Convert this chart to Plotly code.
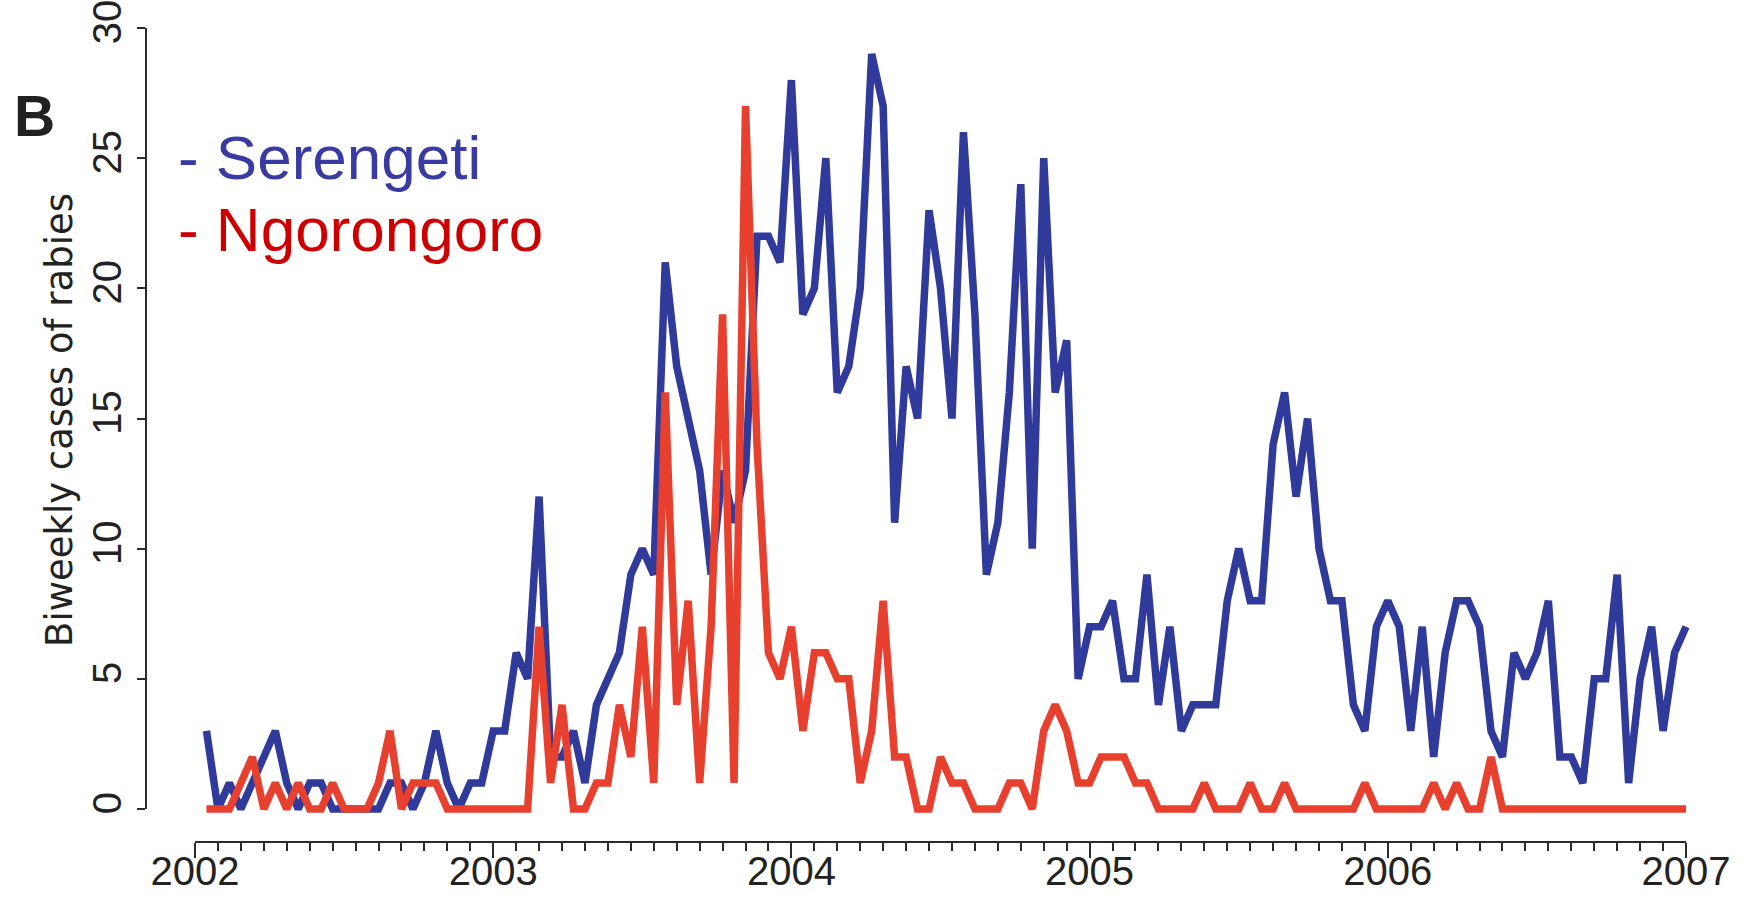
import numpy as np
import plotly.graph_objects as go

# Biweekly rabies case counts, 26 periods per year, Jan 2002 - Dec 2006
serengeti = [
    3, 0, 1, 0, 1, 2, 3, 1, 0, 1,
    1, 0, 0, 0, 0, 0, 1, 1, 0, 1,
    3, 1, 0, 1, 1, 3, 3, 6, 5, 12,
    2, 2, 3, 1, 4, 5, 6, 9, 10, 9,
    21, 17, 15, 13, 9, 13, 11, 13, 22, 22,
    21, 28, 19, 20, 25, 16, 17, 20, 29, 27,
    11, 17, 15, 23, 20, 15, 26, 19, 9, 11,
    16, 24, 10, 25, 16, 18, 5, 7, 7, 8,
    5, 5, 9, 4, 7, 3, 4, 4, 4, 8,
    10, 8, 8, 14, 16, 12, 15, 10, 8, 8,
    4, 3, 7, 8, 7, 3, 7, 2, 6, 8,
    8, 7, 3, 2, 6, 5, 6, 8, 2, 2,
    1, 5, 5, 9, 1, 5, 7, 3, 6, 7,
]
ngorongoro = [
    0, 0, 0, 1, 2, 0, 1, 0, 1, 0,
    0, 1, 0, 0, 0, 1, 3, 0, 1, 1,
    1, 0, 0, 0, 0, 0, 0, 0, 0, 7,
    1, 4, 0, 0, 1, 1, 4, 2, 7, 1,
    16, 4, 8, 1, 7, 19, 1, 27, 14, 6,
    5, 7, 3, 6, 6, 5, 5, 1, 3, 8,
    2, 2, 0, 0, 2, 1, 1, 0, 0, 0,
    1, 1, 0, 3, 4, 3, 1, 1, 2, 2,
    2, 1, 1, 0, 0, 0, 0, 1, 0, 0,
    0, 1, 0, 0, 1, 0, 0, 0, 0, 0,
    0, 1, 0, 0, 0, 0, 0, 1, 0, 1,
    0, 0, 2, 0, 0, 0, 0, 0, 0, 0,
    0, 0, 0, 0, 0, 0, 0, 0, 0, 0,
]
start_year = 2002
periods_per_year = 26
year_ticks = [2002, 2003, 2004, 2005, 2006, 2007]
year_labels = ["2002", "2003", "2004", "2005", "2006", "2007"]
count_ticks = [0, 5, 10, 15, 20, 25, 30]
count_labels = ["0", "5", "10", "15", "20", "25", "30"]

# decimal-year position of the end of each biweekly period
t = start_year + (np.arange(len(serengeti)) + 1) / periods_per_year

# minor ticks every second period (13 per year)
minor_ticks = [start_year + k / 13 for k in range(0, 5 * 13 + 1) if k % 13 != 0]

BLUE = "#2f3a9a"
RED = "#e8402f"
AXIS = "#2b2b2b"
TICK_FONT = dict(family="Liberation Sans, Arial, sans-serif", size=40, color="#222222")

fig = go.Figure()
fig.add_trace(go.Scatter(x=t, y=serengeti, mode="lines", name="Serengeti",
                         line=dict(color=BLUE, width=7.5)))
fig.add_trace(go.Scatter(x=t, y=ngorongoro, mode="lines", name="Ngorongoro",
                         line=dict(color=RED, width=7.5)))

W, H = 1746, 897
ml, mr, mt, mb = 146, 42, 10, 55
px_per_year = 298.2
px_per_case = 26.04
x0 = 2002 - 49 / px_per_year
x1 = 2007 + 18 / px_per_year
y0 = -33 / px_per_case
y1 = 30 + 18 / px_per_case

fig.update_layout(
    width=W, height=H,
    margin=dict(l=ml, r=mr, t=mt, b=mb, autoexpand=False),
    paper_bgcolor="white", plot_bgcolor="white",
    showlegend=False,
    xaxis=dict(
        range=[x0, x1], automargin=False, showgrid=False, zeroline=False, showline=False,
        tickmode="array", tickvals=year_ticks, ticktext=year_labels,
        ticks="outside", ticklen=15, tickwidth=1.5, tickcolor=AXIS,
        tickfont=TICK_FONT, ticklabelstandoff=-21, ticklabeloverflow="allow",
        minor=dict(tickmode="array", tickvals=minor_ticks, ticks="outside",
                   ticklen=8, tickwidth=1.5, tickcolor=AXIS, showgrid=False),
    ),
    yaxis=dict(
        range=[y0, y1], automargin=False, showgrid=False, zeroline=False, showline=False,
        tickmode="array", tickvals=count_ticks, ticktext=count_labels,
        ticks="outside", ticklen=8, tickwidth=1.5, tickcolor=AXIS,
        tickangle=-90, tickfont=TICK_FONT, ticklabeloverflow="allow",
    ),
    shapes=[
        # R-style axis lines spanning only the labelled range
        dict(type="line", xref="x", yref="paper", x0=2002, x1=2007, y0=0, y1=0,
             line=dict(color=AXIS, width=2)),
        dict(type="line", xref="paper", yref="y", x0=0, x1=0, y0=0, y1=30,
             line=dict(color=AXIS, width=2)),
    ],
)

pw = W - ml - mr
ph = H - mt - mb


def px_to_paper(xp, yp):
    return (xp - ml) / pw, 1 - (yp - mt) / ph


ax, ay = px_to_paper(59, 420)
fig.add_annotation(x=ax, y=ay, xref="paper", yref="paper", text="Biweekly cases of rabies",
                   textangle=-90, showarrow=False, xanchor="center", yanchor="middle",
                   font=dict(family="DejaVu Sans, sans-serif", size=37, color="#222222"))

bx, by = px_to_paper(34, 116)
fig.add_annotation(x=bx, y=by, xref="paper", yref="paper", text="<b>B</b>",
                   showarrow=False, xanchor="center", yanchor="middle",
                   font=dict(family="Liberation Sans, Arial, sans-serif", size=57, color="#222222"))

sx, sy = px_to_paper(176, 157)
fig.add_annotation(x=sx, y=sy, xref="paper", yref="paper", text="- Serengeti",
                   showarrow=False, xanchor="left", yanchor="middle",
                   font=dict(family="Liberation Sans, Arial, sans-serif", size=62, color="#3a3aa3"))

nx, ny = px_to_paper(176, 230)
fig.add_annotation(x=nx, y=ny, xref="paper", yref="paper", text="- Ngorongoro",
                   showarrow=False, xanchor="left", yanchor="middle",
                   font=dict(family="Liberation Sans, Arial, sans-serif", size=62, color="#cc0000"))

fig.write_html("out.html")
